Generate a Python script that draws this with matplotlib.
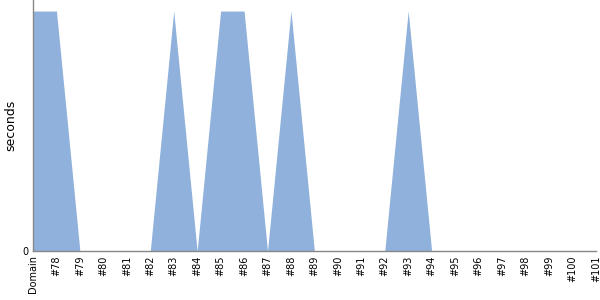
import matplotlib
matplotlib.use('Agg')
import matplotlib.pyplot as plt
import numpy as np

# категории и значения
labels = ['Domain'] + ['#%d' % i for i in range(78, 102)]
values = [1, 1, 0, 0, 0, 0, 1, 0, 1, 1, 0, 1, 0, 0, 0, 0, 1, 0,
          0, 0, 0, 0, 0, 0, 0]

x = np.arange(len(labels))

fig = plt.figure(figsize=(6, 3), dpi=100)
ax = fig.add_axes([0.055, 0.163, 0.938, 0.837])
ax.fill_between(x, values, 0, color='#8fb1db', linewidth=0)
ax.set_xlim(0, len(labels) - 1)
ax.set_ylim(0, 1.046)
ax.set_xticks(x)
ax.set_xticklabels(labels, rotation=90, fontsize=7)
ax.set_yticks([0])
ax.tick_params(axis='both', length=0, labelsize=7, pad=3)
ax.set_ylabel('seconds', fontsize=9)
for s in ['top', 'right']:
    ax.spines[s].set_visible(False)
for s in ['left', 'bottom']:
    ax.spines[s].set_color('#888888')
    ax.spines[s].set_linewidth(1)

fig.savefig('out.png', dpi=100)
plt.close()
